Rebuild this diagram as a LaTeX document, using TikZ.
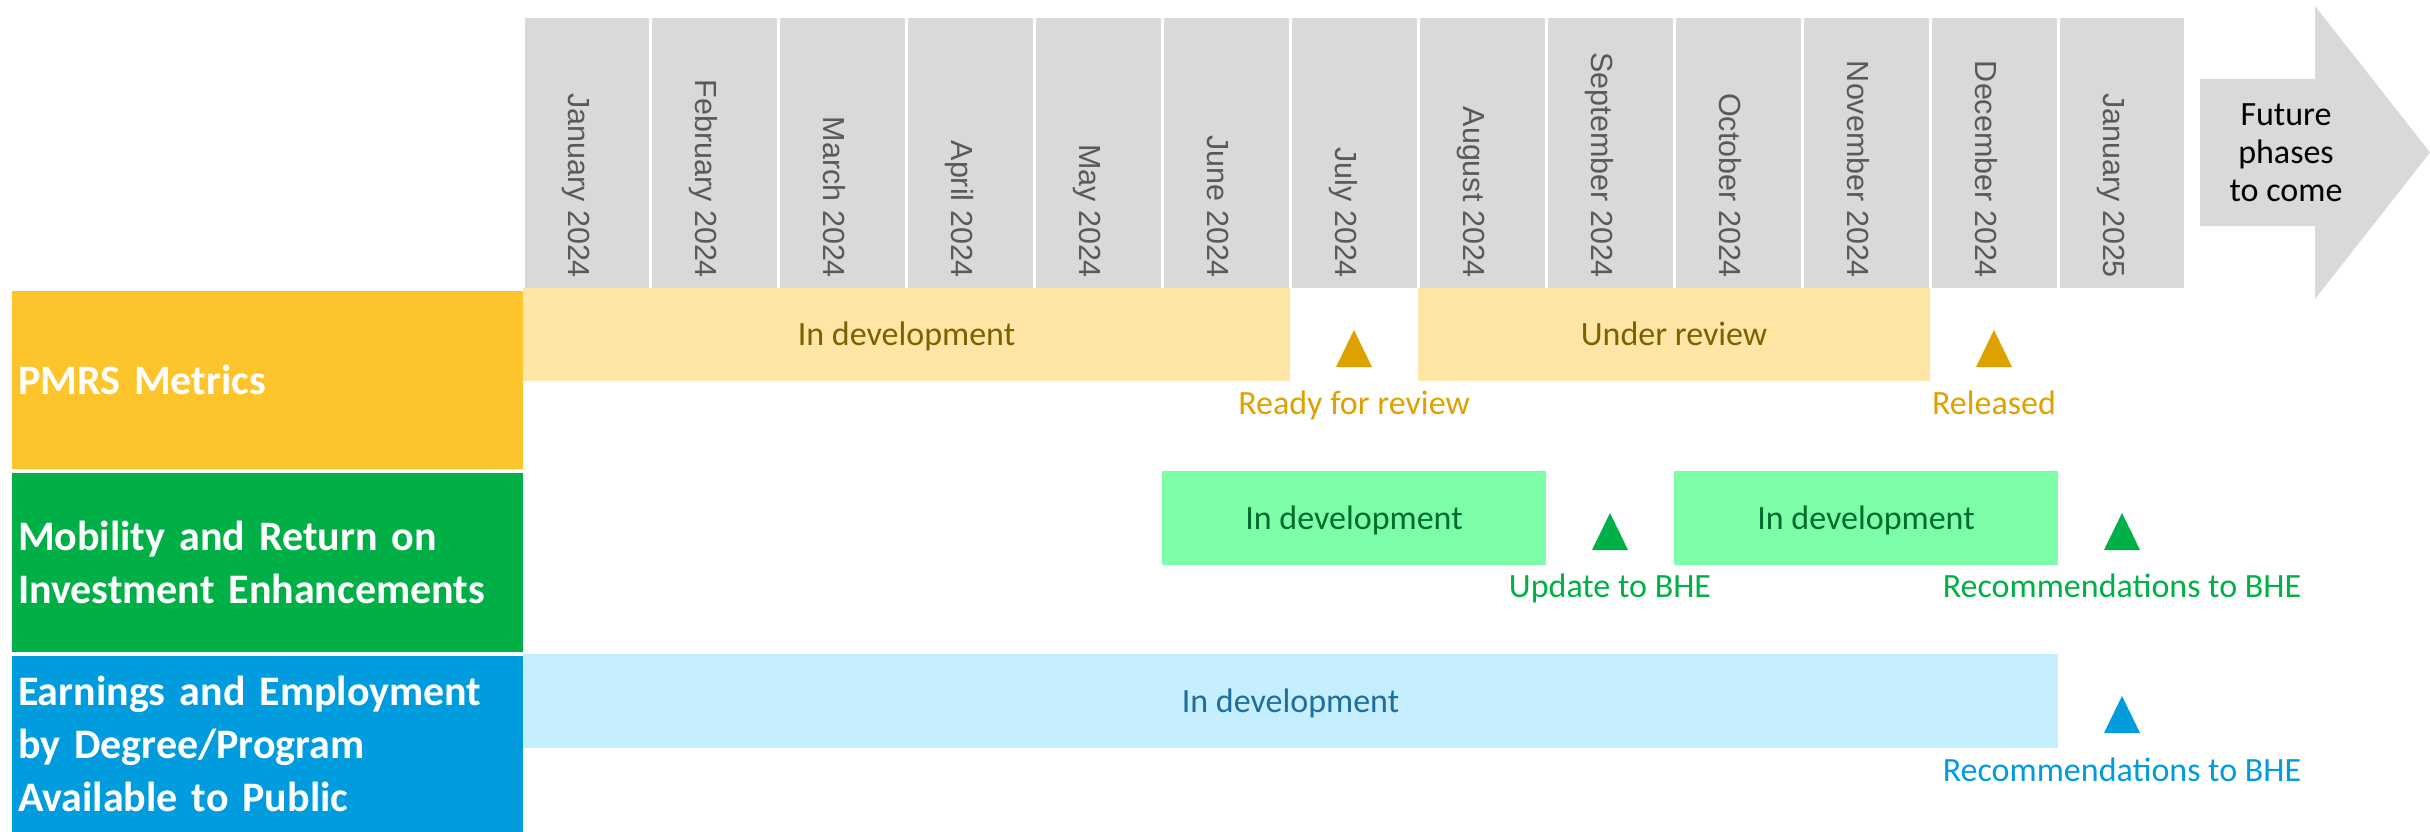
\documentclass[tikz,border=0pt]{standalone}
\usepackage{fontspec}
\setmainfont{Carlito}
\newfontfamily\monthfont{Liberation Sans}

% palette
\definecolor{hdrgray}{HTML}{D9D9D9}
\definecolor{monthgray}{HTML}{595959}
\definecolor{pmrsmain}{HTML}{FDC52B}
\definecolor{pmrsbar}{HTML}{FFE6A6}
\definecolor{pmrsdark}{HTML}{7F6000}
\definecolor{pmrsmark}{HTML}{DEA200}
\definecolor{mobmain}{HTML}{00B046}
\definecolor{mobbar}{HTML}{7CFFA8}
\definecolor{mobdark}{HTML}{006A2E}
\definecolor{earnmain}{HTML}{009CDE}
\definecolor{earnbar}{HTML}{C5EEFE}
\definecolor{earndark}{HTML}{1D6E9C}

\begin{document}
\begin{tikzpicture}[x=1pt,y=-1pt,
  every node/.style={inner sep=0pt, outer sep=0pt},
  monthcol/.style={fill=hdrgray, minimum width=124.9pt, minimum height=270pt, anchor=north west},
  monthlab/.style={rotate=-90, anchor=base east, text=monthgray,
    font=\monthfont\fontsize{30.5}{36}\selectfont},
  rowlab/.style={anchor=north west, text width=499pt, inner xsep=6pt, align=left,
    minimum width=511pt, text=white, font=\bfseries\fontsize{42}{53}\selectfont},
  bar/.style={anchor=north west, minimum height=93pt, text height=22pt, text depth=0pt,
    font=\fontsize{34}{38}\selectfont},
  mslab/.style={anchor=base, font=\fontsize{34}{38}\selectfont},
  future/.style={align=center, font=\fontsize{34}{38}\selectfont, text=black}
]
\useasboundingbox (0,0) rectangle (2430,832);

% month header
\foreach \m [count=\k from 0] in {January 2024, February 2024, March 2024, April 2024,
    May 2024, June 2024, July 2024, August 2024, September 2024, October 2024,
    November 2024, December 2024, January 2025} {
  \node[monthcol] (col\k) at ({523+\k*127.92+1.5},18) {};
  \node[monthlab] (mon\k) at ({523+\k*127.92+45},278) {\m};
}

% arrow towards later phases
\fill[hdrgray] (2200,79) -- (2315,79) -- (2315,6) -- (2430,152.5) -- (2315,299)
  -- (2315,226) -- (2200,226) -- cycle;
\node[future] (fut) at (2286,153) {Future\\phases\\to come};

% row headings
\node[rowlab, fill=pmrsmain, minimum height=178pt] (pmrs) at (12,291) {PMRS Metrics};
\node[rowlab, fill=mobmain, minimum height=179pt] (mob) at (12,473)
  {Mobility and Return on\\Investment Enhancements};
\node[rowlab, fill=earnmain, minimum height=176pt] (earn) at (12,656)
  {Earnings and Employment\\by Degree/Program\\Available to Public};

% phase bars
\node[bar, fill=pmrsbar, text=pmrsdark, minimum width=767pt] (pmrsdev) at (523,288) {In development};
\node[bar, fill=pmrsbar, text=pmrsdark, minimum width=512pt] (pmrsrev) at (1418,288) {Under review};
\node[bar, fill=mobbar, text=mobdark, minimum width=384pt, minimum height=94pt] (mobdevA) at (1162,471) {In development};
\node[bar, fill=mobbar, text=mobdark, minimum width=384pt, minimum height=94pt] (mobdevB) at (1674,471) {In development};
\node[bar, fill=earnbar, text=earndark, minimum width=1535pt, minimum height=94pt] (earndev) at (523,654) {In development};

% milestones
\coordinate (msA) at (1354,367);
\coordinate (msB) at (1994,367);
\coordinate (msC) at (1610,550);
\coordinate (msD) at (2122,550);
\coordinate (msE) at (2122,733);
\foreach \p/\c in {msA/pmrsmark, msB/pmrsmark, msC/mobmain, msD/mobmain, msE/earnmain}
  \fill[\c] (\p) ++(-18,0) -- ++(18,-37) -- ++(18,37) -- cycle;

\node[mslab, text=pmrsmark] (msAt) at (1354,414) {Ready for review};
\node[mslab, text=pmrsmark] (msBt) at (1994,414) {Released};
\node[mslab, text=mobmain] (msCt) at (1610,597) {Update to BHE};
\node[mslab, text=mobmain] (msDt) at (2122,597) {Recommendations to BHE};
\node[mslab, text=earnmain] (msEt) at (2122,781) {Recommendations to BHE};
\end{tikzpicture}
\end{document}
